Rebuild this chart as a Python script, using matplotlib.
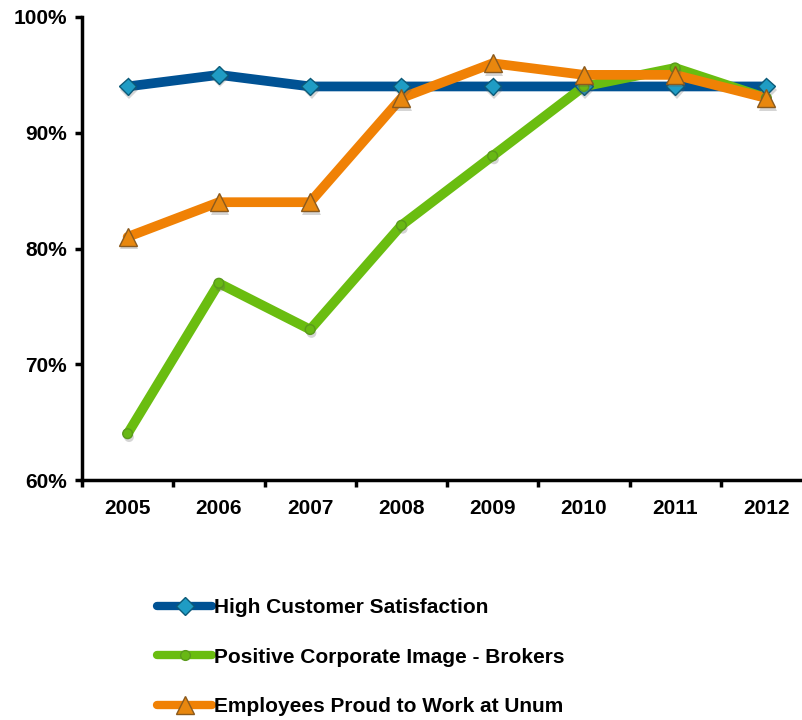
import matplotlib
matplotlib.use("Agg")
import matplotlib.pyplot as plt
import matplotlib.patheffects as pe
from matplotlib.ticker import FixedLocator, FuncFormatter

plt.rcParams['font.family'] = ['Liberation Sans', 'DejaVu Sans']
plt.rcParams['font.weight'] = 'bold'

years = ['2005', '2006', '2007', '2008', '2009', '2010', '2011', '2012']
satisfaction = [94, 95, 94, 94, 94, 94, 94, 94]
image_brokers = [64, 77, 73, 82, 88, 94, 95.6, 93]
proud = [81, 84, 84, 93, 96, 95, 95, 93]

fig = plt.figure(figsize=(8.03, 7.2), dpi=100)
ax = fig.add_axes([82 / 803, 1 - 480 / 720, 730 / 803, 463 / 720])

x = range(len(years))
shadow = [pe.SimplePatchShadow(offset=(1, -2.5), alpha=0.25, shadow_rgbFace='0.35'), pe.Normal()]

series = [
    (satisfaction, 'High Customer Satisfaction', '#005294', 'D', '#1f9cc4', '#0c5a78', 9),
    (image_brokers, 'Positive Corporate Image - Brokers', '#6abd10', 'o', '#68b814', '#5a9a1c', 7),
    (proud, 'Employees Proud to Work at Unum', '#f08105', '^', '#e8870e', '#8a5a1e', 13),
]

handles = []
for vals, label, col, mk, face, edge, ms in series:
    ax.plot(x, vals, color=col, lw=7, solid_capstyle='round', zorder=2)
    ax.plot(x, vals, ls='none', marker=mk, ms=ms, mfc=face, mec=edge, mew=1,
            zorder=3, path_effects=shadow)
    h, = ax.plot([], [], color=col, lw=6, solid_capstyle='round', marker=mk,
                 ms=ms, mfc=face, mec=edge, mew=1, label=label)
    handles.append(h)

ax.set_xlim(-0.5, 7.5)
ax.set_ylim(60, 100)
ax.xaxis.set_major_locator(FixedLocator([i - 0.5 for i in range(9)]))
ax.xaxis.set_major_formatter(FuncFormatter(lambda v, p: ''))
ax.set_xticks(list(x), years, minor=True)
ax.tick_params(axis='x', which='minor', length=0, pad=14, labelsize=15)
ax.tick_params(axis='x', which='major', length=5, width=2.5, direction='out')
ax.set_yticks([60, 70, 80, 90, 100])
ax.yaxis.set_major_formatter(FuncFormatter(lambda v, p: f'{v:.0f}%'))
ax.tick_params(axis='y', length=5, width=2.5, direction='out', pad=6, labelsize=15)

for s in ['top', 'right']:
    ax.spines[s].set_visible(False)
for s in ['left', 'bottom']:
    ax.spines[s].set_linewidth(2.5)

fig.legend(handles=handles, loc='upper left', bbox_to_anchor=(147 / 803, 1 - 588 / 720),
           frameon=False, fontsize=15, handlelength=2.6, handletextpad=0.1,
           labelspacing=1.45, borderpad=0)

fig.savefig('out.png', dpi=100)
